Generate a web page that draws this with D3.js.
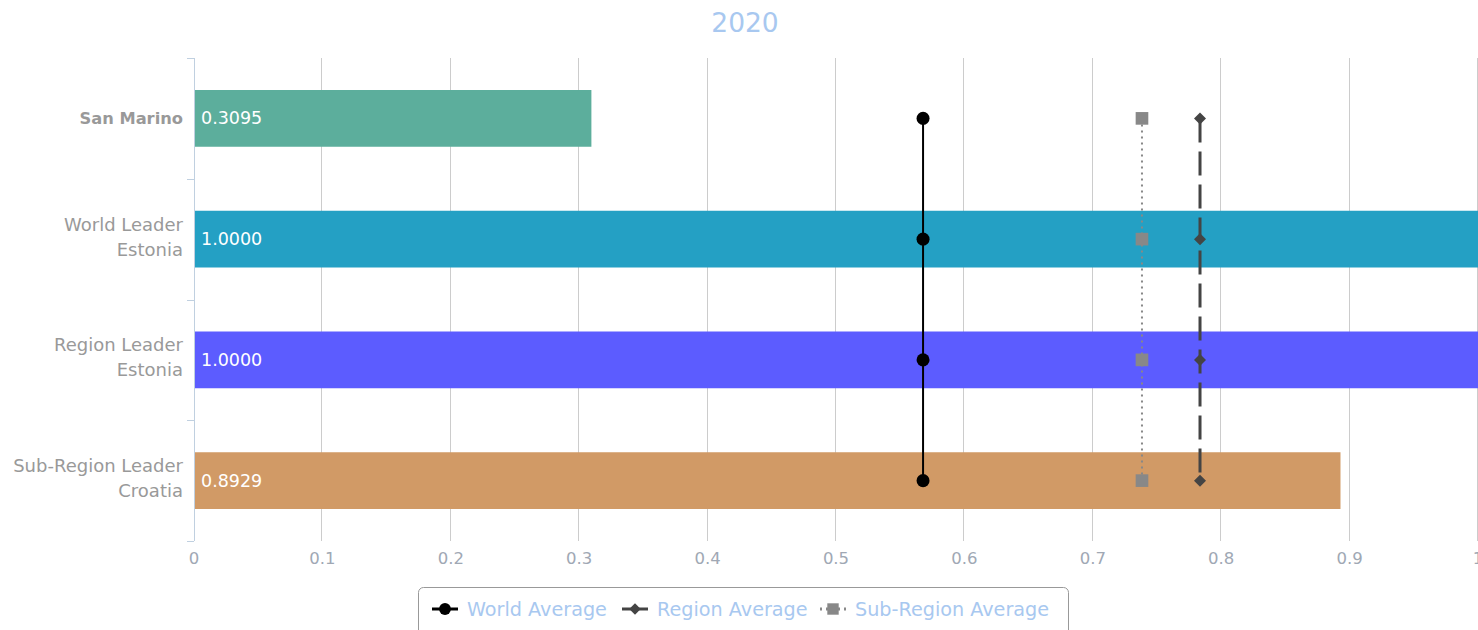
<!DOCTYPE html>
<html><head><meta charset="utf-8">
<script src="https://cdn.jsdelivr.net/npm/d3@7"></script>
<style>body{margin:0;background:#fff;}svg{display:block;font-family:"DejaVu Sans",Verdana,sans-serif;}</style>
</head><body><svg id="c" width="1478" height="630"></svg>
<script>
const title = "2020";
const categories = [["San Marino"],["World Leader","Estonia"],["Region Leader","Estonia"],["Sub-Region Leader","Croatia"]];
const values = [0.3095, 1.0000, 1.0000, 0.8929];
const barColors = ["#5cae9c","#24a0c4","#5c5cff","#d19a66"];
const xTicks = [0,0.1,0.2,0.3,0.4,0.5,0.6,0.7,0.8,0.9,1];
const worldAverage = 0.5678;
const regionAverage = 0.7835;
const subRegionAverage = 0.7383;

const svg = d3.select("#c");
const m = {l:194, r:0, t:58, b:89};
const W = 1478, H = 630;
const x = d3.scaleLinear().domain([0,1]).range([m.l, W-m.r]);
const y = d3.scaleBand().domain(d3.range(categories.length)).range([m.t, H-m.b]).paddingInner(0.53).paddingOuter(0.265);
const band = d3.scaleBand().domain(d3.range(categories.length)).range([m.t, H-m.b]);

svg.append("text").attr("x",745).attr("y",32).attr("text-anchor","middle").attr("font-size",26.5).attr("fill","#a8c8f0").text(title);

// grid
svg.append("g").selectAll("line").data(xTicks.slice(1)).join("line")
  .attr("x1",d=>Math.round(x(d))-0.5).attr("x2",d=>Math.round(x(d))-0.5).attr("y1",m.t).attr("y2",H-m.b)
  .attr("stroke","#cccccc").attr("stroke-width",1);

// x tick labels
svg.append("g").selectAll("text").data(xTicks).join("text")
  .attr("x",d=>x(d)).attr("y",564).attr("text-anchor","middle").attr("font-size",16.5).attr("fill","#a0a8b4")
  .text(d=>d3.format("")(d));

// bars
svg.append("g").selectAll("rect").data(values).join("rect")
  .attr("x",x(0)).attr("y",(d,i)=>y(i)).attr("width",d=>x(d)-x(0)).attr("height",y.bandwidth())
  .attr("fill",(d,i)=>barColors[i]);
svg.append("g").selectAll("text").data(values).join("text")
  .attr("x",x(0)+7).attr("y",(d,i)=>y(i)+y.bandwidth()/2+6).attr("font-size",17.5).attr("fill","#ffffff")
  .text(d=>d.toFixed(4));

// y axis
const ya = svg.append("g");
ya.append("line").attr("x1",m.l+0.5).attr("x2",m.l+0.5).attr("y1",m.t).attr("y2",H-m.b).attr("stroke","#c0d0e0");
ya.selectAll("line.t").data(d3.range(categories.length+1)).join("line").attr("class","t")
  .attr("x1",m.l-7).attr("x2",m.l).attr("y1",i=>Math.round(m.t+i*band.bandwidth())+0.5).attr("y2",i=>Math.round(m.t+i*band.bandwidth())+0.5)
  .attr("stroke","#c0d0e0");
categories.forEach((lines,i)=>{
  const cy = band(i)+band.bandwidth()/2;
  const bold = i===0;
  const t = ya.append("text").attr("text-anchor","end").attr("font-size",bold?16.3:18).attr("fill","#999")
    .attr("font-weight", bold?"bold":"normal");
  lines.forEach((s,j)=>{
    const yy = lines.length===1 ? cy+6 : cy+6.5-15+j*25;
    t.append("tspan").attr("x",m.l-11).attr("y",yy).text(s);
  });
});

// average lines
const yTop = band(0)+band.bandwidth()/2, yBot = band(categories.length-1)+band.bandwidth()/2;
const centers = d3.range(categories.length).map(i=>band(i)+band.bandwidth()/2);
function avgLine(v,stroke,dash,width){
  svg.append("line").attr("x1",x(v)).attr("x2",x(v)).attr("y1",yTop).attr("y2",yBot)
    .attr("stroke",stroke).attr("stroke-width",width).attr("stroke-dasharray",dash);
}
avgLine(subRegionAverage,"#888888","2,4",2);
avgLine(regionAverage,"#444444","24,9",3);
avgLine(worldAverage,"#000000",null,2);
const rhombus = {draw(ctx,size){const r=Math.sqrt(size)/2; ctx.moveTo(0,-r); ctx.lineTo(r,0); ctx.lineTo(0,r); ctx.lineTo(-r,0); ctx.closePath();}};
const sym = {
  circle: d3.symbol().type(d3.symbolCircle).size(133),
  diamond: d3.symbol().type(rhombus).size(144),
  square: d3.symbol().type(d3.symbolSquare).size(160)
};
svg.append("g").selectAll("path").data(centers).join("path").attr("transform",c=>`translate(${x(subRegionAverage)},${c})`).attr("d",sym.square()).attr("fill","#888888");
svg.append("g").selectAll("path").data(centers).join("path").attr("transform",c=>`translate(${x(regionAverage)},${c})`).attr("d",sym.diamond()).attr("fill","#444444");
svg.append("g").selectAll("path").data(centers).join("path").attr("transform",c=>`translate(${x(worldAverage)},${c})`).attr("d",sym.circle()).attr("fill","#000000");

// legend
const lg = svg.append("g");
lg.append("rect").attr("x",418.5).attr("y",587.5).attr("width",650).attr("height",60).attr("rx",5)
  .attr("fill","#fff").attr("stroke","#999").attr("stroke-width",1);
const items = [
  {name:"World Average", x:432, color:"#000", dash:null, s:d3.symbolCircle, sz:110},
  {name:"Region Average", x:622, color:"#444", dash:null, s:rhombus, sz:130},
  {name:"Sub-Region Average", x:820, color:"#888", dash:"2,4", s:d3.symbolSquare, sz:130}
];
items.forEach(it=>{
  lg.append("line").attr("x1",it.x).attr("x2",it.x+26).attr("y1",609).attr("y2",609).attr("stroke",it.color).attr("stroke-width",3).attr("stroke-dasharray",it.dash);
  lg.append("path").attr("transform",`translate(${it.x+13},609)`).attr("d",d3.symbol().type(it.s).size(it.sz)()).attr("fill",it.color);
  lg.append("text").attr("x",it.x+35).attr("y",615.5).attr("font-size",19.2).attr("fill","#a8c8f0").text(it.name);
});
</script></body></html>
